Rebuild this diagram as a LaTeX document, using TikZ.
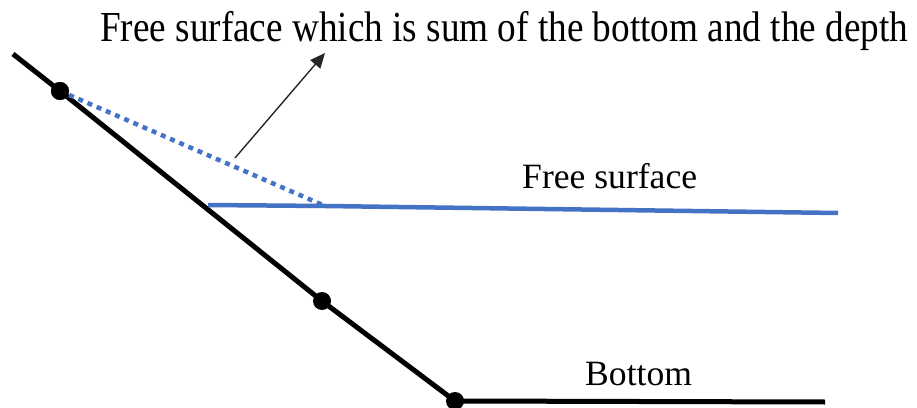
\documentclass[tikz,border=0pt]{standalone}
\usepackage{fontspec}
\setmainfont{Liberation Serif}
\usetikzlibrary{arrows.meta,positioning,calc}
\definecolor{fsblue}{HTML}{4472C4}
\tikzset{
  bed/.style={line width=5pt,black},
  surf/.style={line width=4.5pt,fsblue},
  surfdot/.style={line width=4.5pt,fsblue,dash pattern=on 5pt off 5pt},
  dot/.style={circle,fill=black,inner sep=0pt,minimum size=18pt},
  ar/.style={-{Triangle[length=15pt,width=13pt]},line width=1.4pt,black!85},
  lab/.style={font=\fontsize{35.6}{40}\selectfont,inner sep=0pt},
}
\begin{document}
\begin{tikzpicture}[x=1pt,y=1pt]
      \useasboundingbox (0,0) rectangle (917,407);
      % bottom line and its points
      \coordinate (top) at (13,353);
      \coordinate (end) at (825,5);
      \node[dot] (d1) at (60,316) {};
      \node[dot] (d2) at (322,106) {};
      \node[dot] (d3) at (455,6) {};
      \draw[bed] (top)--(d1.center)--(d2.center)--(d3.center)--(end);
      % free surface
      \coordinate (fsl) at (208,202);
      \coordinate (fsk) at (325,201);
      \coordinate (fsr) at (838,194);
      \draw[surf] (fsl)--(fsk)--(fsr);
      \draw[surfdot] (d1.center)--(fsk);
      \node[dot] at (d1) {};
      % labels
      \node[lab,anchor=base west] (t) at (100,365)
        {\scalebox{1}[1.15]{\fontsize{37.2}{40}\selectfont Free surface which is sum of the bottom and the depth}};
      \coordinate (s) at (235,249);
      \coordinate (tip) at (325,354);
      \draw[ar] (s)--(tip);
      \node[lab,anchor=base west] (fs) at (522,218) {Free surface};
      \node[lab,anchor=base west] (b) at (585,22) {Bottom};
    \end{tikzpicture}
\end{document}
